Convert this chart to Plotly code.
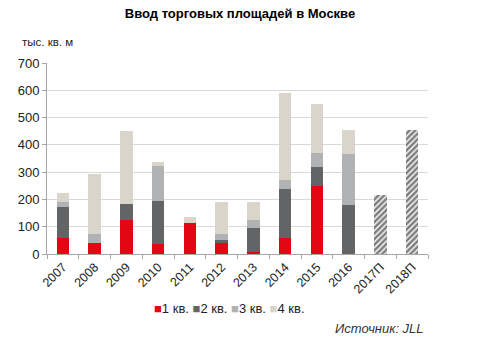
import plotly.graph_objects as go

years = ["2007", "2008", "2009", "2010", "2011", "2012", "2013", "2014", "2015", "2016", "2017П", "2018П"]
q1 = [58, 40, 125, 36, 113, 42, 7, 58, 249, 0, None, None]
q2 = [113, 0, 58, 157, 0, 8, 90, 181, 71, 178, None, None]
q3 = [21, 33, 0, 128, 0, 22, 29, 34, 52, 190, None, None]
q4 = [33, 221, 267, 18, 22, 117, 66, 317, 178, 86, None, None]
forecast = [None] * 10 + [217, 454]

series_names = ["1 кв.", "2 кв.", "3 кв.", "4 кв."]
colors = ["#e30613", "#636466", "#b1b2b4", "#dad5ca"]

fig = go.Figure()
for name, vals, col in zip(series_names, [q1, q2, q3, q4], colors):
    fig.add_trace(go.Bar(x=years, y=vals, name=name, marker_color=col,
                         marker_line_width=0))
fig.add_trace(go.Bar(x=years, y=forecast, name="прогноз",
                     marker=dict(color="white", line_width=0,
                                 pattern=dict(shape="/", fgcolor="black", bgcolor="white",
                                              size=4, solidity=0.65))))

fig.update_layout(
    width=480, height=348,
    barmode="stack", bargap=0.6,
    plot_bgcolor="white", paper_bgcolor="white",
    margin=dict(l=47, r=52, t=63, b=94),
    font=dict(family="Liberation Sans, Arial, sans-serif", color="#222"),
    title=dict(text="<b>Ввод торговых площадей в Москве</b>", x=0.5, xanchor="center",
               y=0.96, yanchor="middle", font=dict(size=13, color="black")),
    showlegend=False,
    yaxis=dict(range=[0, 700], dtick=100, showgrid=True, gridcolor="#d9d9d9", gridwidth=1,
               showline=True, linecolor="#a6a6a6", ticks="outside", ticklen=4,
               tickcolor="#a6a6a6", tickfont=dict(size=13, color="#222"), zeroline=False),
    xaxis=dict(showline=True, linecolor="#a6a6a6", ticks="outside", ticklen=4,
               tickcolor="#a6a6a6", tickson="boundaries", tickangle=-45,
               tickfont=dict(size=12.5, color="#222")),
)

legend_text = " ".join(
    f"<span style='color:{c}'>■</span>{n}" for n, c in zip(series_names, colors)
)
fig.add_annotation(text=legend_text, xref="paper", yref="paper", x=0.48, y=-0.283,
                   xanchor="center", yanchor="middle", showarrow=False,
                   font=dict(size=13, color="#222"))
fig.add_annotation(text="тыс. кв. м", xref="paper", yref="paper", x=-0.072, y=1.11,
                   xanchor="left", yanchor="middle", showarrow=False,
                   font=dict(size=11.5, color="#222"))
fig.add_annotation(text="<i>Источник: JLL</i>", xref="paper", yref="paper", x=0.995, y=-0.39,
                   xanchor="right", yanchor="middle", showarrow=False,
                   font=dict(size=13, color="#333"))
fig.write_html("out.html")
